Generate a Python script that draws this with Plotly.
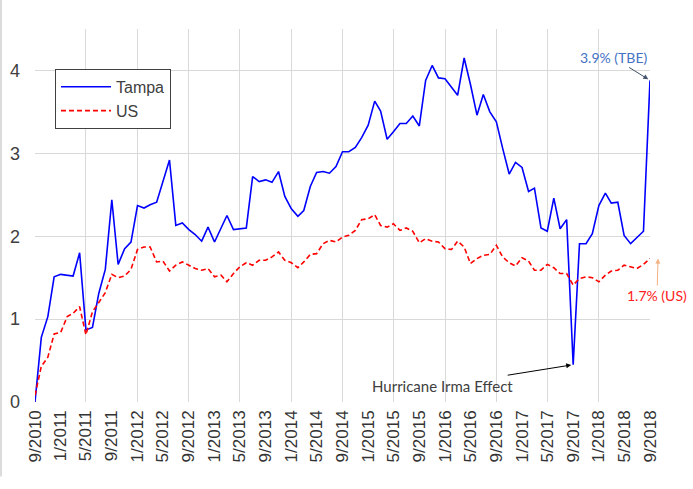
import pandas as pd
import plotly.graph_objects as go

# monthly, 9/2010 .. 9/2018
months = pd.date_range("2010-09-01", periods=97, freq="MS")

tampa = [0.00, 0.78, 1.03, 1.51, 1.54, 1.53, 1.52, 1.80, 0.87, 0.90,
         1.31, 1.60, 2.44, 1.66, 1.85, 1.93, 2.37, 2.34, 2.38, 2.41,
         2.67, 2.92, 2.13, 2.16, 2.08, 2.02, 1.94, 2.11, 1.93, 2.10,
         2.25, 2.08, 2.09, 2.10, 2.72, 2.66, 2.68, 2.65, 2.78, 2.48,
         2.33, 2.24, 2.31, 2.60, 2.77, 2.78, 2.76, 2.84, 3.02, 3.02,
         3.07, 3.19, 3.34, 3.63, 3.51, 3.17, 3.26, 3.36, 3.36, 3.45,
         3.33, 3.88, 4.06, 3.91, 3.90, 3.80, 3.70, 4.15, 3.83, 3.46,
         3.71, 3.50, 3.38, 3.06, 2.75, 2.89, 2.83, 2.54, 2.58, 2.10,
         2.06, 2.46, 2.09, 2.20, 0.45, 1.91, 1.91, 2.03, 2.37, 2.52,
         2.40, 2.41, 2.01, 1.91, 1.99, 2.06, 3.88]

us = [0.08, 0.43, 0.54, 0.82, 0.84, 1.03, 1.07, 1.15, 0.81, 1.09,
      1.20, 1.32, 1.54, 1.50, 1.52, 1.60, 1.84, 1.87, 1.87, 1.69,
      1.70, 1.58, 1.65, 1.69, 1.65, 1.61, 1.59, 1.61, 1.51, 1.53,
      1.45, 1.55, 1.63, 1.68, 1.65, 1.71, 1.71, 1.75, 1.81, 1.71,
      1.68, 1.62, 1.69, 1.78, 1.79, 1.91, 1.95, 1.93, 1.99, 2.01,
      2.07, 2.20, 2.21, 2.26, 2.13, 2.11, 2.15, 2.07, 2.10, 2.06,
      1.92, 1.97, 1.94, 1.93, 1.85, 1.84, 1.94, 1.87, 1.67, 1.73,
      1.77, 1.78, 1.89, 1.75, 1.68, 1.64, 1.74, 1.70, 1.59, 1.59,
      1.66, 1.62, 1.55, 1.55, 1.41, 1.49, 1.51, 1.50, 1.45, 1.53,
      1.58, 1.59, 1.65, 1.63, 1.61, 1.66, 1.73]

irma_idx = 84
label_ticks = months[::4]
grid_ticks = months[8:-1:8]
x_range = [months[0], months[-1]]

fig = go.Figure()
fig.add_trace(go.Scatter(x=months, y=tampa, mode="lines", name="Tampa",
                         line=dict(color="#0000FF", width=1.6)))
fig.add_trace(go.Scatter(x=months, y=us, mode="lines", name="US",
                         line=dict(color="#FF0000", width=1.6, dash="5px,3px")))
# invisible trace so the label axis gets drawn
fig.add_trace(go.Scatter(x=months, y=us, xaxis="x2", mode="lines",
                         line=dict(width=0), showlegend=False, hoverinfo="skip"))

fig.add_annotation(x=months[-1], y=tampa[-1], text="3.9% (TBE)",
                   ax=-37, ay=-23, showarrow=True, arrowhead=2, arrowsize=1,
                   arrowwidth=1, arrowcolor="#44546A", standoff=2,
                   font=dict(family="Lato", size=14, color="#4472C4"))
fig.add_annotation(x=months[-1], y=us[-1], text="1.7% (US)", xshift=8,
                   ax=-1, ay=37, showarrow=True, arrowhead=2, arrowsize=1,
                   arrowwidth=1, arrowcolor="#F4B183",
                   font=dict(family="Lato", size=14, color="#FF2020"))
fig.add_annotation(x=months[irma_idx], y=tampa[irma_idx], text="Hurricane Irma Effect",
                   ax=-131, ay=21, showarrow=True, arrowhead=2, arrowsize=1,
                   arrowwidth=1, arrowcolor="#000000", standoff=2,
                   font=dict(family="Lato", size=15, color="#404040"))

# chart border on the left
fig.add_shape(type="line", xref="paper", yref="paper", x0=-0.0553, x1=-0.0553,
              y0=-0.2, y1=1.08, line=dict(color="#d0d0d0", width=1.5))

fig.update_layout(
    width=693, height=489,
    margin=dict(l=35, r=43, t=29, b=87, autoexpand=False),
    plot_bgcolor="white", paper_bgcolor="white",
    font=dict(family="Liberation Sans", color="#404040"),
    legend=dict(x=0.0325, y=0.893, xanchor="left", yanchor="top",
                bordercolor="#404040", borderwidth=1, bgcolor="white",
                font=dict(size=16, color="#404040"), tracegroupgap=0,
                itemwidth=50),
    xaxis=dict(range=x_range, tickvals=grid_ticks, showticklabels=False,
               showgrid=True, gridcolor="#d9d9d9", gridwidth=1,
               zeroline=False, automargin=False),
    xaxis2=dict(overlaying="x", anchor="y", side="bottom", range=x_range,
                tickvals=label_ticks, tickformat="%-m/%Y", tickangle=-90,
                showgrid=False, tickfont=dict(size=17, color="#333333"),
                ticklabelstandoff=4, zeroline=False, automargin=False),
    yaxis=dict(range=[0, 4.5], tickvals=[0, 1, 2, 3, 4], showgrid=True,
               gridcolor="#d9d9d9", gridwidth=1, zeroline=False,
               tickfont=dict(size=18), ticklabelstandoff=14, automargin=False),
    showlegend=True,
)

fig.write_html("out.html", config={"displayModeBar": False},
               post_script="document.body.style.margin='0px';")
